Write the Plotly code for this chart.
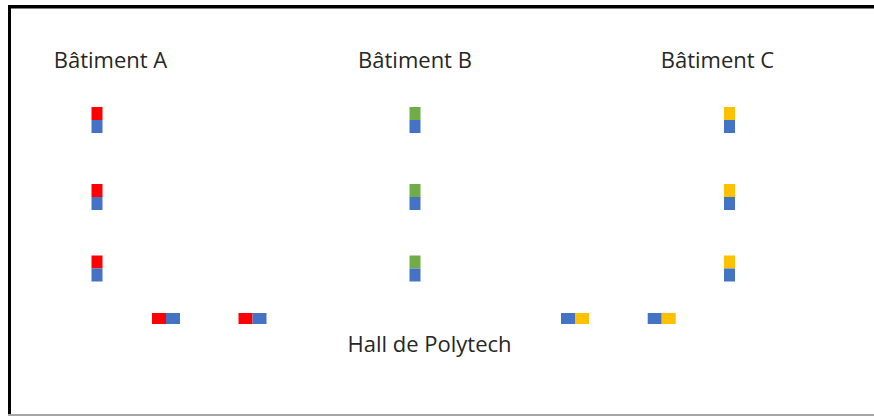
import plotly.graph_objects as go

# Building labels and positions (diagram units = pixels of the schematic)
buildings = ["Bâtiment A", "Bâtiment B", "Bâtiment C"]
building_label_x = [110.5, 415, 717.5]
building_label_y = [62, 62, 62]
building_colors = ["#FF0000", "#70AD47", "#FFC000"]

# Vertical sensor stacks: column x centers and floor junction y
column_x = [97, 415, 729.5]
floor_y = [120, 197, 268.5]

# Horizontal sensors in the hall: junction x, color index of partner
hall_x = [166, 252.5, 575, 661.7]
hall_partner = [0, 0, 2, 2]
hall_y = 318.5
hall_label = "Hall de Polytech"
hall_label_pos = (429.5, 346)

BLUE = "#4472C4"
W, H = 11, 13   # vertical blocks
HW, HH = 14, 11  # horizontal blocks

fig = go.Figure()
shapes = []

for bi, cx in enumerate(column_x):
    for fy in floor_y:
        shapes.append(dict(type="rect", x0=cx - W / 2, x1=cx + W / 2, y0=fy - H, y1=fy,
                           fillcolor=building_colors[bi], line=dict(width=0), layer="above"))
        shapes.append(dict(type="rect", x0=cx - W / 2, x1=cx + W / 2, y0=fy, y1=fy + H,
                           fillcolor=BLUE, line=dict(width=0), layer="above"))

for hx, pi in zip(hall_x, hall_partner):
    left = building_colors[pi] if pi == 0 else BLUE
    right = BLUE if pi == 0 else building_colors[pi]
    shapes.append(dict(type="rect", x0=hx - HW, x1=hx, y0=hall_y - HH / 2, y1=hall_y + HH / 2,
                       fillcolor=left, line=dict(width=0), layer="above"))
    shapes.append(dict(type="rect", x0=hx, x1=hx + HW, y0=hall_y - HH / 2, y1=hall_y + HH / 2,
                       fillcolor=right, line=dict(width=0), layer="above"))

# frame
shapes.append(dict(type="rect", x0=8, x1=880, y0=5, y1=8.5, fillcolor="#000000", line=dict(width=0)))
shapes.append(dict(type="rect", x0=8, x1=11, y0=5, y1=416, fillcolor="#000000", line=dict(width=0)))
shapes.append(dict(type="rect", x0=8, x1=880, y0=414, y1=416, fillcolor="#A6A6A6", line=dict(width=0)))

fig.add_trace(go.Scatter(
    x=building_label_x + [hall_label_pos[0]],
    y=building_label_y + [hall_label_pos[1]],
    text=buildings + [hall_label],
    mode="text",
    textfont=dict(family="Open Sans", size=22, color="#262626"),
    hoverinfo="skip",
    showlegend=False,
))

fig.update_layout(
    width=874, height=417,
    margin=dict(l=0, r=0, t=0, b=0),
    paper_bgcolor="white", plot_bgcolor="white",
    shapes=shapes,
    xaxis=dict(range=[0, 874], visible=False, fixedrange=True),
    yaxis=dict(range=[417, 0], visible=False, fixedrange=True),
    showlegend=False,
)

fig.write_html("out.html",
               config={"displayModeBar": False},
               post_script="document.body.style.margin='0';document.body.style.overflow='hidden';")
